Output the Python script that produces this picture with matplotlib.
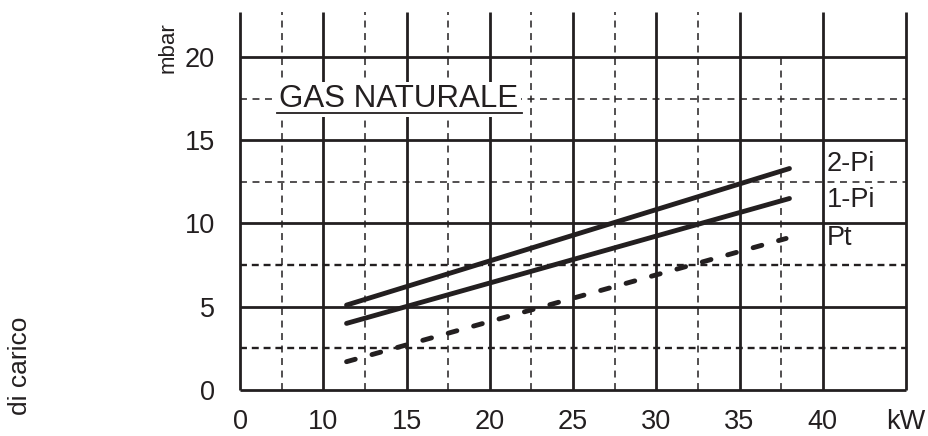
import matplotlib
matplotlib.use('Agg')
import matplotlib.pyplot as plt
from matplotlib.lines import Line2D

plt.rcParams['font.family'] = ['Liberation Sans', 'DejaVu Sans']
plt.rcParams['lines.scale_dashes'] = False

# curve end points (kW, mbar)
kw = [11.4, 38.0]
p_2pi = [5.1, 13.3]
p_1pi = [4.0, 11.5]
kw_pt = [11.4, 37.8]
p_pt = [1.7, 9.1]

curve_names = ['2-Pi', '1-Pi', 'Pt']
curve_label_y = [13.6, 11.4, 9.1]

# axis (the left edge stands for 0, the scale really starts at 5)
x_ticks = [5, 10, 15, 20, 25, 30, 35, 40, 45]
x_labels = ['0', '10', '15', '20', '25', '30', '35', '40', 'kW']
y_ticks = [0, 5, 10, 15, 20]
y_labels = ['0', '5', '10', '15', '20']
x_minor = [7.5, 12.5, 17.5, 22.5, 27.5, 32.5]
x_minor_short = [37.5]
y_minor_thin = [12.5, 17.5]
y_minor_thick = [2.5, 7.5]

XMIN, XMAX = 5, 45
YMIN, YMAX = 0, 22.7
YTOP_GRID = 20

fig = plt.figure(figsize=(9.29, 4.36), dpi=100)
ax = fig.add_axes([240 / 929, 1 - 390 / 436, 666 / 929, 378 / 436])
ax.set_xlim(XMIN, XMAX)
ax.set_ylim(YMIN, YMAX)
for s in ax.spines.values():
    s.set_visible(False)

black = '#231f20'
grid_kw = dict(color=black, clip_on=False, zorder=1)

# solid grid
ax.vlines(x_ticks, YMIN, YMAX, lw=2.0, **grid_kw)
ax.hlines(y_ticks, XMIN, XMAX, lw=2.0, **grid_kw)
# dashed grid
ax.vlines(x_minor, YMIN, YMAX, lw=1.1, linestyles=[(0, (5, 4))], **grid_kw)
ax.vlines(x_minor_short, YMIN, YTOP_GRID, lw=1.1, linestyles=[(0, (5, 4))], **grid_kw)
ax.hlines(y_minor_thin, XMIN, XMAX, lw=1.1, linestyles=[(0, (5, 4))], **grid_kw)
ax.hlines(y_minor_thick, XMIN, XMAX, lw=1.7, linestyles=[(0, (5, 3.5))], **grid_kw)

# curves
ax.plot(kw, p_2pi, color=black, lw=3.5, solid_capstyle='round', zorder=3)
ax.plot(kw, p_1pi, color=black, lw=3.5, solid_capstyle='round', zorder=3)
ax.plot(kw_pt, p_pt, color=black, lw=3.5, dashes=(6.5, 12.5),
        dash_capstyle='round', zorder=3)

for name, yy in zip(curve_names, curve_label_y):
    ax.text(40.25, yy, name, fontsize=19.5, color=black, ha='left', va='center', zorder=4)

ax.set_xticks(x_ticks)
ax.set_xticklabels(x_labels)
ax.set_yticks(y_ticks)
ax.set_yticklabels(y_labels)
ax.tick_params(length=0, labelsize=19.5, labelcolor=black)
ax.tick_params(axis='x', pad=14)
ax.tick_params(axis='y', pad=18)

title = ax.text(14.5, 17.45, 'GAS NATURALE', fontsize=22.5, color=black,
                ha='center', va='center', zorder=4,
                bbox=dict(facecolor='white', edgecolor='none', pad=2))

ax.text(0.65, 19.05, 'mbar', fontsize=16, color=black, rotation=90,
        ha='center', va='bottom', clip_on=False)
fig.text(20 / 929, 1 - 415 / 436, 'di carico', fontsize=19, color=black,
         rotation=90, ha='center', va='bottom')

# underline the title
line_y = (436 - 113) / 436
fig.add_artist(Line2D([277 / 929, 522 / 929], [line_y, line_y],
                      transform=fig.transFigure, color=black, lw=1.3, zorder=5))

fig.savefig('out.png', dpi=100)
